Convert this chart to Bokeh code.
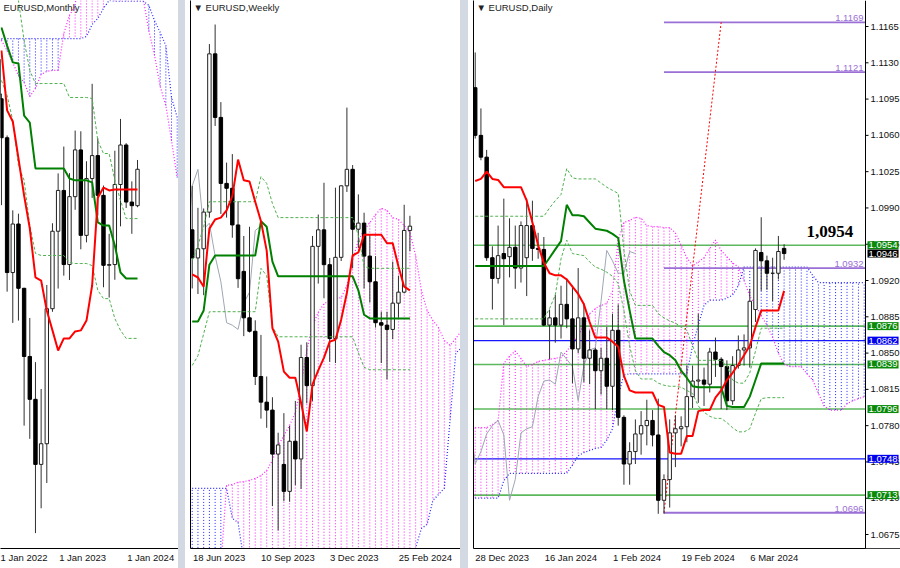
import numpy as np
from bokeh.plotting import figure
from bokeh.models import Range1d, FixedTicker, LinearAxis, Label, Span, Spacer, BoxAnnotation
from bokeh.layouts import row
from bokeh.embed import file_html
from bokeh.resources import INLINE
from bokeh.core.properties import value

# ======================= DATA =======================
# ---- Monthly (bar index 0 = Jan 2022) ----
m_open = [1.1370,1.1235,1.1218,1.1067,1.0545,1.0733,1.0484,1.0220,1.0054,0.9802,0.9882,1.0405,1.0705,1.0863,
          1.0576,1.0839,1.1020,1.0689,1.0909,1.0998,1.0844,1.0573,1.0576,1.0886,1.1039,1.0818,1.0804]
m_high = [1.1483,1.1495,1.1238,1.1076,1.0786,1.0773,1.0486,1.0369,1.0198,1.0094,1.0497,1.0736,1.0929,1.1033,
          1.0930,1.1095,1.1092,1.0976,1.1276,1.1065,1.0882,1.0695,1.1017,1.1140,1.1046,1.0898,1.0981]
m_low = [1.1121,1.1106,1.0806,1.0471,1.0350,1.0359,0.9952,0.9901,0.9536,0.9632,0.9730,1.0393,1.0483,1.0533,
         1.0516,1.0788,1.0635,1.0662,1.0834,1.0766,1.0488,1.0448,1.0517,1.0724,1.0795,1.0695,1.0798]
m_close = [1.1235,1.1218,1.1067,1.0545,1.0733,1.0484,1.0220,1.0054,0.9802,0.9882,1.0405,1.0705,1.0863,1.0576,
           1.0839,1.1020,1.0689,1.0909,1.0998,1.0844,1.0573,1.0576,1.0886,1.1039,1.0818,1.0804,1.0945]
m_lines_start = 2   # tenkan / kijun / lower dashed start at bar 2
m_tenkan = [1.1405,1.1173,1.1130,1.0987,1.0843,1.0716,1.0526,1.0514,1.0398,1.0321,1.0243,1.0290,1.0290,1.0317,
            1.0321,1.0359,1.0495,1.0835,1.0874,1.0863,1.0867,1.0867,1.0867,1.0867,1.0867]
m_kijun = [1.1494,1.1424,1.1359,1.1355,1.1153,1.1126,1.0948,1.0948,1.0948,1.0948,1.0948,1.0948,1.0909,1.0902,
           1.0902,1.0902,1.0894,1.0739,1.0727,1.0727,1.0650,1.0545,1.0522,1.0522,1.0522]
m_dash_lo = [1.1289,1.1231,1.1134,1.0960,1.0902,1.0727,1.0619,1.0611,1.0611,1.0611,1.0611,1.0611,1.0584,1.0580,
             1.0580,1.0580,1.0572,1.0476,1.0444,1.0444,1.0367,1.0321,1.0290,1.0290,1.0290]
m_dash_up_start = 4
m_dash_up = [1.1676,1.1599,1.1444,1.1328,1.1277,1.1277,1.1277,1.1277,1.1277,1.1277,1.1223,1.1223,1.1223,1.1223,
             1.1219,1.1056,1.1006,1.1006,1.0902,1.0824,1.0754,1.0754,1.0754]
m_cloud_start = 2   # bars 2..33
m_span_a = [1.1444,1.1405,1.1358,1.1308,1.1281,1.1227,1.1258,1.1312,1.1324,1.1328,1.1328,1.1471,1.1541,1.1579,
            1.1750,1.1750,1.1750,1.1750,1.1750,1.1750,1.1750,1.1750,1.1750,1.1750,1.1750,
            1.1606,1.1482,1.1386,1.1266,1.1192,1.1056,1.0913]
m_span_b = [1.1451]*15 + [1.1459,1.1506,1.1529,1.1568,1.1599] + [1.1596]*6 + [1.1580,1.1521,1.1475,1.1424,1.1223,1.1146]
m_tick_idx = [0, 12, 24]
m_tick_lab = ["1 Jan 2022", "1 Jan 2023", "1 Jan 2024"]

# ---- Weekly (bar index 0 = week of 18 Jun 2023) ----
w_open = [1.0940,1.0894,1.0909,1.0969,1.1228,1.1124,1.1016,1.1008,1.0948,1.0872,1.0796,1.0774,1.0700,1.0658,
          1.0645,1.0573,1.0556,1.0512,1.0594,1.0565,1.0731,1.0685,1.0913,1.0940,1.0883,1.0762,1.0895,1.1012,
          1.1039,1.0941,1.0951,1.0897,1.0855,1.0788,1.0784,1.0777,1.0820,1.0838,1.0939]
w_high = [1.1012,1.0976,1.0975,1.1244,1.1276,1.1149,1.1050,1.1064,1.0987,1.0930,1.0945,1.0792,1.0768,1.0700,
          1.0666,1.0608,1.0640,1.0619,1.0660,1.0752,1.0756,1.0930,1.0965,1.1017,1.0894,1.1009,1.1013,1.1140,
          1.1046,1.0998,1.0968,1.0932,1.0897,1.0806,1.0806,1.0888,1.0865,1.0981,1.0963]
w_low = [1.0844,1.0835,1.0833,1.0960,1.1110,1.0966,1.0960,1.0927,1.0845,1.0766,1.0772,1.0686,1.0631,1.0616,
         1.0488,1.0448,1.0496,1.0495,1.0522,1.0516,1.0656,1.0660,1.0852,1.0828,1.0724,1.0722,1.0889,1.1002,
         1.0877,1.0910,1.0844,1.0821,1.0780,1.0722,1.0695,1.0761,1.0796,1.0836,1.0905]
w_close = [1.0894,1.0909,1.0969,1.1228,1.1124,1.1016,1.1008,1.0948,1.0860,1.0796,1.0774,1.0700,1.0658,1.0645,
           1.0573,1.0588,1.0512,1.0594,1.0565,1.0731,1.0685,1.0913,1.0940,1.0883,1.0762,1.0895,1.1012,1.1039,
           1.0941,1.0951,1.0897,1.0855,1.0788,1.0784,1.0777,1.0820,1.0838,1.0939,1.0946]
w_tenkan = [1.0867,1.0862,1.0847,1.0942,1.0957,1.0960,1.0972,1.0995,1.1055,1.1021,1.1019,1.0986,1.0954,1.0906,
            1.0779,1.0757,1.0708,1.0698,1.0698,1.0657,1.0610,1.0687,1.0710,1.0731,1.0757,1.0760,1.0793,1.0837,
            1.0898,1.0903,1.0932,1.0932,1.0932,1.0932,1.0918,1.0918,1.0880,1.0847,1.0841]
w_kijun = [1.0790,1.0790,1.0808,1.0883] + [1.0898]*8 + [1.0954,1.0945,1.0888] + [1.0864]*14 + [1.0841,1.0801] + [1.0795]*8
w_dash_up = [1.0890,1.0914,1.0945] + [1.0986]*9 + [1.1027,1.1016,1.0983] + [1.0960]*14 + [1.0931,1.0880] + [1.0877]*8
w_dash_lo = [1.0718,1.0734,1.0770] + [1.0806]*9 + [1.0877,1.0865,1.0782] + [1.0765]*14 + [1.0739,1.0715] + [1.0711]*8
w_span_a = [1.0390]*6 + [1.0522,1.0523,1.0527,1.0528,1.0530,1.0533,1.0538,1.0546,1.0563,1.0587,1.0603,1.0620,
            1.0641,1.0685,1.0743,1.0783,1.0805,1.0819,1.0824,1.0828,1.0829,1.0849,1.0890,1.0923,1.0939,1.0952,
            1.0965,1.0975,1.0972,1.0960,1.0957,1.0947,1.0936,1.0898,1.0841,1.0808,1.0792,1.0780,1.0759,1.0751,
            1.0762,1.0775]
w_span_b = [1.0517]*7 + [1.0468,1.0461] + [1.0400]*30 + [1.0420,1.0451,1.0458,1.0497,1.0507,1.0517,1.0628,1.0738,1.0747]
w_tick_idx = [0, 12, 24, 36]
w_tick_lab = ["18 Jun 2023", "10 Sep 2023", "3 Dec 2023", "25 Feb 2024"]

# ---- Daily (bar index 0 = 28 Dec 2023) ----
d_open = [1.1106,1.1060,1.1039,1.0942,1.0922,1.0946,1.0943,1.0952,1.0932,1.0942,1.0973,1.0951,1.0950,1.0877,
          1.0884,1.0877,1.0897,1.0883,1.0854,1.0884,1.0845,1.0853,1.0833,1.0845,1.0818,1.0872,1.0788,1.0743,
          1.0755,1.0772,1.0780,1.0785,1.0771,1.0708,1.0728,1.0773,1.0777,1.0779,1.0808,1.0823,1.0824,1.0820,
          1.0851,1.0844,1.0837,1.0804,1.0838,1.0853,1.0855,1.0892,1.0947,1.0939,1.0927,1.0927,1.0951]
d_high = [1.1140,1.1086,1.1046,1.0953,1.0973,1.0999,1.0980,1.0973,1.0977,1.0999,1.0997,1.0966,1.0962,1.0892,
          1.0906,1.0915,1.0922,1.0915,1.0932,1.0898,1.0872,1.0855,1.0855,1.0875,1.0888,1.0897,1.0790,1.0764,
          1.0786,1.0794,1.0805,1.0795,1.0806,1.0733,1.0786,1.0790,1.0789,1.0838,1.0838,1.0888,1.0836,1.0855,
          1.0865,1.0846,1.0843,1.0847,1.0867,1.0868,1.0912,1.0951,1.0981,1.0944,1.0942,1.0963,1.0955]
d_low = [1.1057,1.1036,1.0939,1.0892,1.0917,1.0877,1.0923,1.0912,1.0918,1.0905,1.0939,1.0941,1.0876,1.0844,
         1.0860,1.0864,1.0874,1.0821,1.0850,1.0822,1.0820,1.0796,1.0810,1.0796,1.0795,1.0780,1.0723,1.0723,
         1.0743,1.0752,1.0761,1.0760,1.0695,1.0695,1.0701,1.0740,1.0760,1.0764,1.0797,1.0802,1.0799,1.0812,
         1.0827,1.0796,1.0795,1.0800,1.0835,1.0838,1.0836,1.0880,1.0910,1.0911,1.0900,1.0921,1.0940]
d_close = [1.1060,1.1039,1.0942,1.0922,1.0944,1.0941,1.0952,1.0932,1.0973,1.0973,1.0951,1.0950,1.0877,1.0884,
           1.0877,1.0897,1.0883,1.0854,1.0884,1.0845,1.0853,1.0833,1.0845,1.0818,1.0872,1.0788,1.0743,1.0755,
           1.0772,1.0780,1.0785,1.0771,1.0708,1.0728,1.0773,1.0777,1.0779,1.0808,1.0823,1.0824,1.0820,1.0851,
           1.0844,1.0837,1.0804,1.0838,1.0853,1.0855,1.0900,1.0949,1.0939,1.0927,1.0927,1.0948,1.0946]
d_tenkan = [1.1016,1.1018,1.1025,1.1018,1.1017] + [1.1010]*4 + [1.0997,1.0976,1.0954,1.0937,1.0927,1.0925,1.0925,
            1.0921,1.0914,1.0907,1.0897,1.0880] + [1.0865]*3 + [1.0861,1.0856,1.0828,1.0814] + [1.0812]*4 + \
           [1.0800,1.0798,1.0754,1.0753,1.0753,1.0770,1.0770,1.0794,1.0795,1.0795,1.0807,1.0814,1.0824,1.0831,
            1.0839,1.0848,1.0857,1.0875] + [1.0891]*4 + [1.0910]
d_kijun = [1.0934]*13 + [1.0942,1.0950,1.0958,1.0993,1.0983,1.0983,1.0982,1.0976,1.0970,1.0969,1.0968,1.0965,
           1.0961,1.0920,1.0891] + [1.0864]*4 + [1.0857,1.0851,1.0848,1.0843,1.0833,1.0826,1.0818] + [1.0817]*5 + \
          [1.0799] + [1.0798]*3 + [1.0808,1.0824] + [1.0840]*5
d_dash_up = [1.0982]*13 + [1.0990,1.0997,1.1003,1.1028,1.1019] + [1.1018]*4 + [1.1014,1.1010,1.1007,1.1004,
             1.0949,1.0910] + [1.0896]*4 + [1.0888,1.0884,1.0881,1.0879,1.0875,1.0872,1.0857] + [1.0843]*5 + \
            [1.0838,1.0824,1.0821,1.0821,1.0831,1.0852] + [1.0874]*5
d_dash_lo = [1.0883]*13 + [1.0893,1.0906,1.0941,1.0959,1.0946,1.0945,1.0944,1.0938,1.0933,1.0931,1.0928,1.0924,
             1.0917,1.0891,1.0857,1.0833] + [1.0825]*3 + [1.0821,1.0819,1.0818,1.0818,1.0817,1.0814,1.0811,
             1.0799,1.0793,1.0789,1.0787,1.0787,1.0783,1.0778,1.0774,1.0774,1.0777,1.0792,1.0806] + [1.0807]*4
d_span_a = [1.0778,1.0778,1.0778,1.0781,1.0785,1.0840,1.0847,1.0852,1.0845,1.0837,1.0839,1.0842,1.0843,1.0844,
            1.0845,1.0846,1.0852,1.0859,1.0867,1.0877,1.0888,1.0893,1.0896,1.0898,1.0910,1.0959,1.0976,1.0978,
            1.0981,1.0980,1.0973,1.0972,1.0972,1.0971,1.0971,1.0966,1.0954,1.0942,1.0934,1.0938,1.0942,1.0951,
            1.0959,1.0949,1.0943,1.0937,1.0933,1.0920,1.0905,1.0896,1.0886,1.0877,1.0865,1.0850,1.0839,1.0837,
            1.0837,1.0837,1.0830,1.0824,1.0811,1.0799,1.0795,1.0795,1.0795,1.0801,1.0804,1.0806,1.0808,1.0808]
d_span_b = [1.0710]*5 + [1.0727] + [1.0734]*11 + [1.0742,1.0751,1.0754,1.0756,1.0758,1.0759,1.0766,1.0777,1.0809,
            1.0829] + [1.0830]*11 + [1.0857,1.0877,1.0896] + [1.0901]*3 + [1.0903,1.0906,1.0915] + [1.0933]*12 + \
           [1.0925] + [1.0918]*10
d_tick_idx = [0, 12, 24, 36, 48]
d_tick_lab = ["28 Dec 2023", "16 Jan 2024", "1 Feb 2024", "19 Feb 2024", "6 Mar 2024"]
d_price_ticks = [1.0675,1.0710,1.0745,1.0780,1.0815,1.0850,1.0885,1.0920,1.0955,1.0990,1.1025,1.1060,1.1095,
                 1.1130,1.1165]
lvl_green = [1.0954, 1.0876, 1.0839, 1.0796, 1.0713]
lvl_blue = [1.0862, 1.0748]
lvl_purple = [1.1169, 1.1121, 1.0932, 1.0696]
purple_start_idx = 33
target_idx = [33, 43]
target_price = [1.0696, 1.1169]
current_price = 1.0946
headline_level = 1.0954

# ======================= STYLE =======================
FONT = "Liberation Sans"
PINK = "#ff1eff"
BLUE = "#2323ff"
RED = "#ff0000"
KIJ = "#008000"
DASHG = "#4fb14f"
CHIK = "#9ea7b3"
LVLG = "#5cb85c"
LVLB = "#1515ff"
PURP = "#9a6fd6"
SEP = "#d3d9e2"
H = 568


def make_fig(width, xr, yr, min_left, left_border=True):
    p = figure(width=width, height=H, x_range=Range1d(*xr), y_range=Range1d(*yr),
               toolbar_location=None, output_backend="svg", y_axis_location=None,
               min_border_left=min_left, min_border_right=0,
               min_border_top=0, min_border_bottom=20,
               outline_line_color=None, background_fill_color="white", border_fill_color="white")
    p.grid.visible = False
    if left_border:
        la = LinearAxis(ticker=FixedTicker(ticks=[], minor_ticks=[]), major_tick_out=0, major_tick_in=0,
                        minor_tick_out=0, minor_tick_in=0, major_label_text_font_size="0px",
                        major_label_standoff=0, axis_line_color="#000")
        p.add_layout(la, "left")
    return p


def date_axis(p, idx, labels, ppb):
    ticks = [round(i + len(l) * 2.45 / ppb, 3) for i, l in zip(idx, labels)]
    xa = p.xaxis[0]
    xa.ticker = FixedTicker(ticks=ticks, minor_ticks=[])
    xa.major_label_overrides = {t: l for t, l in zip(ticks, labels)}
    xa.major_tick_out = 0
    xa.major_tick_in = 0
    xa.minor_tick_out = 0
    xa.minor_tick_in = 0
    xa.axis_line_color = "#000"
    xa.major_label_standoff = 3
    xa.major_label_text_font = FONT
    xa.major_label_text_font_size = "9.5px"
    xa.major_label_text_color = "#111"


def candles(p, start, o, h, l, c, width=0.6):
    o, h, l, c = map(np.asarray, (o, h, l, c))
    x = np.arange(start, start + len(o))
    up = c >= o
    p.segment(x, l, x, h, line_color="#303030", line_width=1)
    p.vbar(x=x[up], bottom=o[up], top=c[up], width=width, fill_color="white", line_color="#202020", line_width=1)
    p.vbar(x=x[~up], bottom=c[~up], top=o[~up], width=width, fill_color="black", line_color="black", line_width=1)


def cloud(p, start, span_a, span_b):
    a = np.asarray(span_a)
    b = np.asarray(span_b)
    x = np.arange(start, start + len(a))
    up = a >= b
    p.segment(x[up], a[up], x[up], b[up], line_color=PINK, line_width=1, line_dash="1 2")
    p.segment(x[~up], a[~up], x[~up], b[~up], line_color=BLUE, line_width=1, line_dash="1 2")
    p.line(x, a, line_color=PINK, line_width=1.2, line_dash="1 2")
    p.line(x, b, line_color=BLUE, line_width=1.2, line_dash="1 2")


def series(p, start, vals, **kw):
    x = np.arange(start, start + len(vals))
    p.line(x, vals, **kw)


def title(p, xr, yr, text):
    p.add_layout(Label(x=xr[0], y=yr[1], x_offset=3, y_offset=-1, text=text, text_baseline="top",
                       text_align="left", text_font=FONT, text_font_size="9.5px", text_color="#222"))


# ======================= MONTHLY =======================
m_xr = (1.834, 33.23)
m_yr = (0.94763, 1.15986)
pm = make_fig(178, m_xr, m_yr, 0, left_border=False)
cloud(pm, m_cloud_start, m_span_a, m_span_b)
candles(pm, 0, m_open, m_high, m_low, m_close)
series(pm, m_dash_up_start, m_dash_up, line_color=DASHG, line_width=1, line_dash="3 2")
series(pm, m_lines_start, m_dash_lo, line_color=DASHG, line_width=1, line_dash="3 2")
series(pm, m_lines_start, m_kijun, line_color=KIJ, line_width=2)
series(pm, m_lines_start, m_tenkan, line_color=RED, line_width=2)
date_axis(pm, m_tick_idx, m_tick_lab, 5.67)
title(pm, m_xr, m_yr, "EURUSD,Monthly")

# ======================= WEEKLY =======================
w_xr = (-0.3, 46.83)
w_yr = (1.04185, 1.13153)
pw = make_fig(275, w_xr, w_yr, 5)
cloud(pw, 0, w_span_a, w_span_b)
wx = np.arange(len(w_close))
pw.line(wx - 26, w_close, line_color=CHIK, line_width=1)
candles(pw, 0, w_open, w_high, w_low, w_close)
series(pw, 0, w_dash_up, line_color=DASHG, line_width=1, line_dash="3 2")
series(pw, 0, w_dash_lo, line_color=DASHG, line_width=1, line_dash="3 2")
series(pw, 0, w_kijun, line_color=KIJ, line_width=2)
series(pw, 0, w_tenkan, line_color=RED, line_width=2)
date_axis(pw, w_tick_idx, w_tick_lab, 5.73)
title(pw, w_xr, w_yr, "\u25bc EURUSD,Weekly")

# ======================= DAILY =======================
# frame spans the chart area plus the price-scale strip on its right
D_PPB = 5.72
d_xr = (-0.3, -0.3 + 427 / D_PPB)
d_axis_x = -0.3 + 392 / D_PPB          # position of the price-scale line
d_yr = (1.06615, 1.11901)
pd_ = make_fig(432, d_xr, d_yr, 5)
cloud(pd_, 0, d_span_a, d_span_b)
for lv in lvl_green:
    pd_.add_layout(Span(location=lv, dimension="width", line_color=LVLG, line_width=1.6, level="underlay"))
for lv in lvl_blue:
    pd_.add_layout(Span(location=lv, dimension="width", line_color=LVLB, line_width=1.3, level="underlay"))
for lv in lvl_purple:
    pd_.segment(x0=purple_start_idx, y0=lv, x1=d_axis_x, y1=lv, line_color=PURP, line_width=1.8)
    pd_.add_layout(Label(x=d_axis_x, y=lv, x_offset=-2, y_offset=1, text=f"{lv:.4f}", text_align="right",
                         text_baseline="bottom", text_font=FONT, text_font_size="9.5px", text_color=PURP))
dx = np.arange(len(d_close))
pd_.line(dx - 26, d_close, line_color=CHIK, line_width=1)
pd_.line(target_idx, target_price, line_color=RED, line_width=1, line_dash="2 2")
candles(pd_, 0, d_open, d_high, d_low, d_close)
series(pd_, 0, d_dash_up, line_color=DASHG, line_width=1, line_dash="3 2")
series(pd_, 0, d_dash_lo, line_color=DASHG, line_width=1, line_dash="3 2")
series(pd_, 0, d_kijun, line_color=KIJ, line_width=2)
series(pd_, 0, d_tenkan, line_color=RED, line_width=2)
date_axis(pd_, d_tick_idx, d_tick_lab, D_PPB)
title(pd_, d_xr, d_yr, "\u25bc EURUSD,Daily")

# headline value
pd_.add_layout(Label(x=len(d_close) - 1 + 8, y=headline_level, y_offset=14,
                     text=f"{headline_level:.4f}".replace(".", ","),
                     text_align="center", text_baseline="middle", text_font="Liberation Serif",
                     text_font_style="bold", text_font_size="17px", text_color="#000"))

# price scale strip (white background, scale line, ticks, labels, coloured boxes)
pd_.add_layout(BoxAnnotation(left=d_axis_x, fill_color="white", fill_alpha=1.0, line_alpha=0, level="annotation"))
pd_.add_layout(Span(location=d_axis_x, dimension="height", line_color="#000", line_width=1, level="overlay"))
ntk = len(d_price_ticks)
pd_.segment(x0=[d_axis_x] * ntk, y0=d_price_ticks, x1=[d_axis_x + 3 / D_PPB] * ntk, y1=d_price_ticks,
            line_color="#000", line_width=1, level="overlay")
pd_.text(x=[d_axis_x] * ntk, y=d_price_ticks, text=[f"{t:.4f}" for t in d_price_ticks], x_offset=5,
         text_align="left", text_baseline="middle", text_font=value(FONT), text_font_size="9.5px",
         text_color="#111", level="overlay")
boxes = [(lv, "#0a8a0a") for lv in lvl_green] + [(lv, "#0000ee") for lv in lvl_blue] + [(current_price, "#000000")]
for lv, col in boxes:
    pd_.add_layout(Label(x=d_axis_x, y=lv, x_offset=2, text=f"{lv:.4f}", text_align="left", text_baseline="middle",
                         text_font=FONT, text_font_size="9.5px", text_color="white",
                         background_fill_color=col, padding=1, level="overlay"))

sep1 = Spacer(width=7, height=H, styles={"background-color": SEP})
sep2 = Spacer(width=8, height=H, styles={"background-color": SEP})
layout = row(pm, sep1, pw, sep2, pd_)

with open("out.html", "w") as f:
    f.write(file_html(layout, INLINE, title="EURUSD Ichimoku"))
